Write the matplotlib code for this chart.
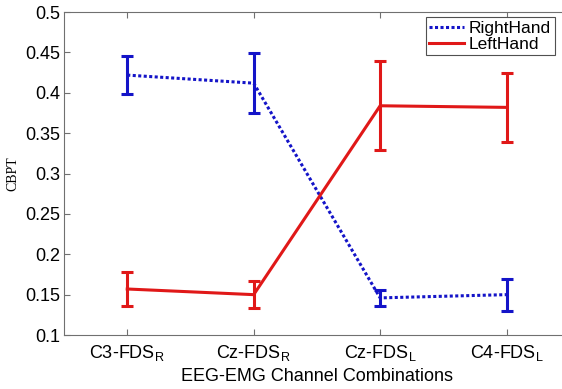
import matplotlib
matplotlib.use("Agg")
import matplotlib.pyplot as plt

plt.rcParams.update({
    "font.family": ["Liberation Sans", "DejaVu Sans"],
    "mathtext.default": "regular",
    "font.size": 13,
    "xtick.direction": "in",
    "ytick.direction": "in",
})

channels = ["C3-FDS$_R$", "Cz-FDS$_R$", "Cz-FDS$_L$", "C4-FDS$_L$"]
right_mean = [0.422, 0.412, 0.146, 0.150]
right_err = [0.024, 0.037, 0.010, 0.020]
left_mean = [0.157, 0.150, 0.384, 0.382]
left_err = [0.021, 0.017, 0.055, 0.043]

x = list(range(1, len(channels) + 1))
blue = "#1414c8"
red = "#e01818"

fig = plt.figure(figsize=(5.62, 3.89), dpi=100)
ax = fig.add_axes([0.1139, 0.1388, 0.90, 0.830])

# lines first, error bars drawn separately so the legend shows plain lines
ax.plot(x, right_mean, color=blue, linestyle=(0, (1, 0.8)), linewidth=2.2,
        label="RightHand")
ax.plot(x, left_mean, color=red, linestyle="-", linewidth=2.2, label="LeftHand")
ax.errorbar(x, right_mean, yerr=right_err, fmt="none", ecolor=blue,
            elinewidth=2.2, capsize=4, capthick=2.2)
ax.errorbar(x, left_mean, yerr=left_err, fmt="none", ecolor=red,
            elinewidth=2.2, capsize=4, capthick=2.2)

ax.set_xlim(0.5, 4.5)
ax.set_ylim(0.1, 0.5)
ax.set_xticks(x)
ax.set_xticklabels(channels)
ax.set_yticks([0.1, 0.15, 0.2, 0.25, 0.3, 0.35, 0.4, 0.45, 0.5])
ax.set_yticklabels(["0.1", "0.15", "0.2", "0.25", "0.3", "0.35", "0.4", "0.45", "0.5"])
ax.tick_params(top=True, right=True, colors="#707070", labelcolor="black",
               length=4)
ax.tick_params(axis="y", pad=3)
ax.tick_params(axis="x", pad=6)
for s in ax.spines.values():
    s.set_color("#707070")

ax.set_xlabel("EEG-EMG Channel Combinations", labelpad=3)
ax.set_ylabel("CBPT", family="Liberation Serif", fontsize=10)
ax.yaxis.set_label_coords(-0.089, 0.5)

leg = ax.legend(loc="upper left", bbox_to_anchor=(0.715, 0.985), fancybox=False,
                framealpha=1, edgecolor="#505050", handlelength=2.0,
                borderpad=0.2, labelspacing=0.05, handletextpad=0.3,
                borderaxespad=0, fontsize=12.5)
leg.get_frame().set_linewidth(0.8)

fig.savefig("out.png", dpi=100)
